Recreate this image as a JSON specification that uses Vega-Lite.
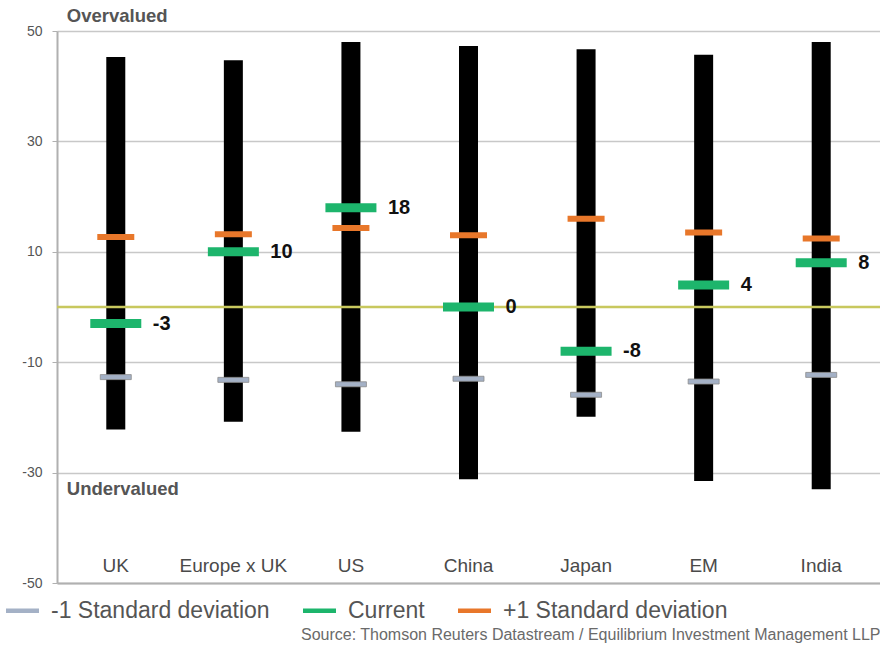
{
  "$schema": "https://vega.github.io/schema/vega-lite/v6.json",
  "width": 823,
  "height": 552,
  "autosize": {"type": "none"},
  "padding": {"left": 57, "top": 31, "right": 0, "bottom": 62},
  "background": "white",
  "config": {
    "view": {"stroke": null},
    "font": "Liberation Sans",
    "locale": {"number": {"decimal": ".", "thousands": ",", "grouping": [3], "currency": ["$", ""], "minus": "-"}}
  },
  "datasets": {
    "ranges": [
      {"region": "UK", "low": -22.2, "high": 45.3},
      {"region": "Europe x UK", "low": -20.8, "high": 44.7},
      {"region": "US", "low": -22.6, "high": 48.0},
      {"region": "China", "low": -31.2, "high": 47.3},
      {"region": "Japan", "low": -19.9, "high": 46.7},
      {"region": "EM", "low": -31.5, "high": 45.7},
      {"region": "India", "low": -33.0, "high": 48.0}
    ],
    "markers": [
      {"region": "UK", "series": "-1 Standard deviation", "value": -12.7},
      {"region": "Europe x UK", "series": "-1 Standard deviation", "value": -13.2},
      {"region": "US", "series": "-1 Standard deviation", "value": -14.0},
      {"region": "China", "series": "-1 Standard deviation", "value": -13.0},
      {"region": "Japan", "series": "-1 Standard deviation", "value": -15.9},
      {"region": "EM", "series": "-1 Standard deviation", "value": -13.5},
      {"region": "India", "series": "-1 Standard deviation", "value": -12.3},
      {"region": "UK", "series": "+1 Standard deviation", "value": 12.7},
      {"region": "Europe x UK", "series": "+1 Standard deviation", "value": 13.2},
      {"region": "US", "series": "+1 Standard deviation", "value": 14.3},
      {"region": "China", "series": "+1 Standard deviation", "value": 13.0},
      {"region": "Japan", "series": "+1 Standard deviation", "value": 16.0},
      {"region": "EM", "series": "+1 Standard deviation", "value": 13.5},
      {"region": "India", "series": "+1 Standard deviation", "value": 12.4},
      {"region": "UK", "series": "Current", "value": -3},
      {"region": "Europe x UK", "series": "Current", "value": 10},
      {"region": "US", "series": "Current", "value": 18},
      {"region": "China", "series": "Current", "value": 0},
      {"region": "Japan", "series": "Current", "value": -8},
      {"region": "EM", "series": "Current", "value": 4},
      {"region": "India", "series": "Current", "value": 8}
    ]
  },
  "encoding": {
    "x": {
      "field": "region",
      "type": "nominal",
      "sort": ["UK", "Europe x UK", "US", "China", "Japan", "EM", "India"],
      "scale": {"paddingInner": 0, "paddingOuter": 0},
      "axis": {
        "title": "Source: Thomson Reuters Datastream / Equilibrium Investment Management LLP",
        "titleFontSize": 16,
        "titleFontWeight": "normal",
        "titleColor": "#6a6a6a",
        "titleAnchor": "end",
        "titleAlign": "right",
        "titleX": 823,
        "titleY": 51,
        "titleBaseline": "middle",
        "labelAngle": 0,
        "labelFontSize": 19,
        "labelColor": "#4a4a4a",
        "labelPadding": -18,
        "labelBaseline": "middle",
        "ticks": false,
        "tickSize": 0,
        "domainColor": "#b0b0b0",
        "domainWidth": 2,
        "grid": false
      }
    }
  },
  "layer": [
    {
      "data": {"name": "ranges"},
      "mark": {"type": "bar", "size": 19, "color": "#000000"},
      "encoding": {
        "y": {
          "field": "low",
          "type": "quantitative",
          "scale": {"domain": [-50, 50], "nice": false},
          "axis": {
            "title": null,
            "values": [-50, -30, -10, 10, 30, 50],
            "grid": true,
            "gridColor": "#c8c8c8",
            "gridWidth": 1.5,
            "domainColor": "#b0b0b0",
            "domainWidth": 2,
            "tickColor": "#b0b0b0",
            "tickSize": 5,
            "labelPadding": 10,
            "labelFontSize": 14,
            "labelColor": "#555555"
          }
        },
        "y2": {"field": "high"}
      }
    },
    {
      "data": {"values": [{"level": 0}]},
      "mark": {"type": "rule", "color": "#c8c85e", "strokeWidth": 2.5},
      "encoding": {"y": {"field": "level", "type": "quantitative"}, "x": null}
    },
    {
      "data": {"name": "markers"},
      "transform": [{"filter": "datum.series === '-1 Standard deviation'"}],
      "mark": {"type": "tick", "size": 31, "thickness": 5, "opacity": 1, "stroke": "#8c8c8c", "strokeWidth": 0.8},
      "encoding": {
        "y": {"field": "value", "type": "quantitative"},
        "color": {
          "field": "series",
          "type": "nominal",
          "scale": {
            "domain": ["-1 Standard deviation", "Current", "+1 Standard deviation"],
            "range": ["#a4b1c6", "#1db56c", "#e8772a"]
          },
          "legend": {
            "orient": "none",
            "legendX": -51,
            "legendY": 563,
            "direction": "horizontal",
            "title": null,
            "symbolType": "M-1,-0.13H1V0.13H-1Z",
            "symbolSize": 1089,
            "symbolStrokeWidth": 0,
            "symbolOpacity": 1,
            "labelFontSize": 23,
            "labelFont": "Liberation Sans",
            "labelColor": "#555555",
            "labelOffset": 12,
            "columnPadding": 33,
            "labelLimit": 400
          }
        }
      }
    },
    {
      "data": {"name": "markers"},
      "transform": [{"filter": "datum.series === '+1 Standard deviation'"}],
      "mark": {"type": "tick", "size": 37, "thickness": 6, "opacity": 1},
      "encoding": {
        "y": {"field": "value", "type": "quantitative"},
        "color": {"field": "series", "type": "nominal"}
      }
    },
    {
      "data": {"name": "markers"},
      "transform": [{"filter": "datum.series === 'Current'"}],
      "mark": {"type": "tick", "size": 51, "thickness": 9, "opacity": 1},
      "encoding": {
        "y": {"field": "value", "type": "quantitative"},
        "color": {"field": "series", "type": "nominal"}
      }
    },
    {
      "data": {"name": "markers"},
      "transform": [{"filter": "datum.series === 'Current'"}],
      "mark": {"type": "text", "align": "left", "baseline": "middle", "dx": 37, "fontSize": 20, "fontWeight": "bold", "color": "#111111"},
      "encoding": {
        "y": {"field": "value", "type": "quantitative"},
        "text": {"field": "value", "type": "nominal"}
      }
    },
    {
      "data": {"values": [{"note": "Overvalued", "region": "UK", "level": 50}]},
      "mark": {"type": "text", "align": "left", "baseline": "middle", "dx": -49, "dy": -15, "fontSize": 18.5, "fontWeight": "bold", "color": "#555555"},
      "encoding": {"y": {"field": "level", "type": "quantitative"}, "text": {"field": "note"}}
    },
    {
      "data": {"values": [{"note": "Undervalued", "region": "UK", "level": -30}]},
      "mark": {"type": "text", "align": "left", "baseline": "middle", "dx": -49, "dy": 16, "fontSize": 18.5, "fontWeight": "bold", "color": "#555555"},
      "encoding": {"y": {"field": "level", "type": "quantitative"}, "text": {"field": "note"}}
    }
  ]
}
